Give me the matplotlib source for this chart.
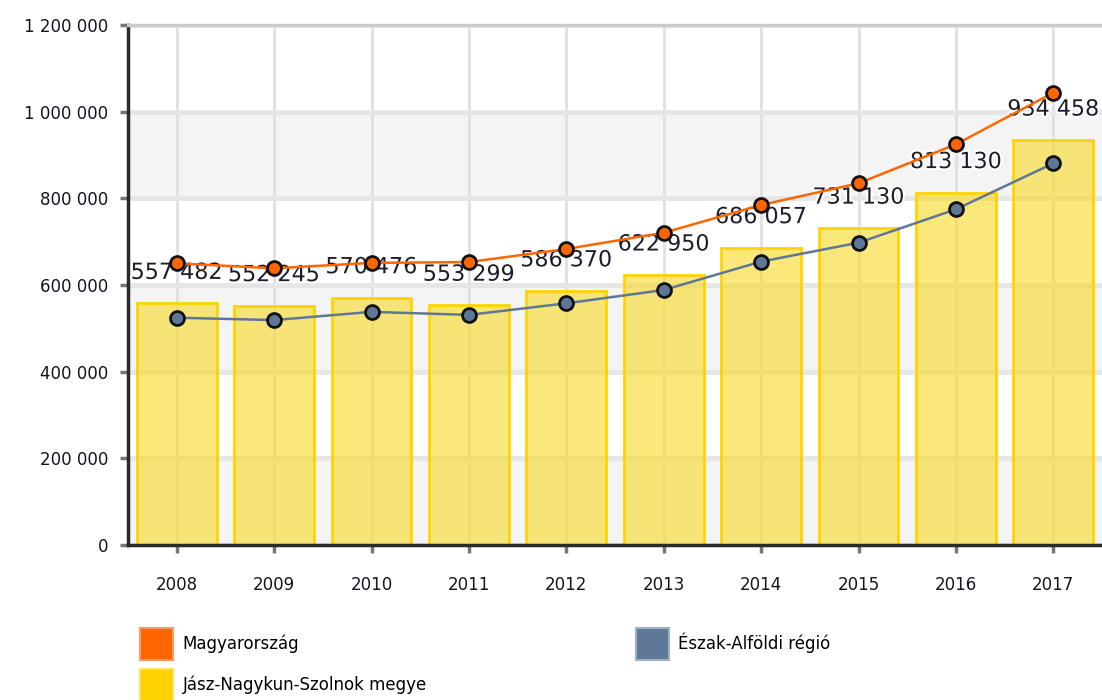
import matplotlib
matplotlib.use('Agg')
import matplotlib.pyplot as plt
import matplotlib.patheffects as pe
from matplotlib.patches import Patch
import numpy as np

years = ['2008', '2009', '2010', '2011', '2012', '2013', '2014', '2015', '2016', '2017']
megye = [557482, 552245, 570476, 553299, 586370, 622950, 686057, 731130, 813130, 934458]
orszag = [650000, 638500, 651000, 653000, 683000, 720700, 784600, 834600, 924700, 1043800]
regio = [524500, 519000, 538000, 531000, 557700, 588500, 654000, 697600, 774700, 880800]
yticks = [0, 200000, 400000, 600000, 800000, 1000000, 1200000]
ytick_labels = ['0', '200 000', '400 000', '600 000', '800 000', '1 000 000', '1 200 000']
series_names = ['Magyarország', 'Észak-Alföldi régió', 'Jász-Nagykun-Szolnok megye']

C_OR = '#FF6600'
C_REG = '#5F7797'
C_BAR = '#F8DA22'
C_BAR_EDGE = '#FFD400'

plt.rcParams['font.family'] = ['DejaVu Sans']

fig = plt.figure(figsize=(11.02, 7.0), dpi=100)
ax = fig.add_axes([128 / 1102, 1 - 545 / 700, (1102 - 128) / 1102, 520 / 700])
x = np.arange(len(years))
ax.set_xlim(-0.5, 9.5)
ax.set_ylim(0, 1200000)

for lo in (0, 400000, 800000):
    ax.axhspan(lo, lo + 200000, color='#f4f4f4', lw=0, zorder=0)

ax.set_axisbelow(True)
ax.grid(axis='y', color='#e6e6e6', lw=3.5, zorder=0.5)
ax.grid(axis='x', color='#e0e0e0', lw=2, zorder=0.5)

ax.bar(x, megye, width=0.82, color=C_BAR, alpha=0.6, edgecolor='none', zorder=2)
ax.bar(x, megye, width=0.82, facecolor='none', edgecolor=C_BAR_EDGE, lw=2, zorder=2.1)

for i, v in enumerate(megye):
    ax.annotate(f'{v:,}'.replace(',', ' '), xy=(x[i], v), xytext=(0, 22),
                textcoords='offset points', ha='center', va='center',
                fontsize=16, color='#1c1c2a', zorder=4,
                path_effects=[pe.withStroke(linewidth=3, foreground='white')])

ax.plot(x, orszag, color=C_OR, lw=1.8, marker='o', markersize=10,
        markerfacecolor=C_OR, markeredgecolor='#111111', markeredgewidth=2, zorder=5)
ax.plot(x, regio, color=C_REG, lw=1.8, marker='o', markersize=10,
        markerfacecolor=C_REG, markeredgecolor='#111111', markeredgewidth=2, zorder=5)

ax.set_xticks(x)
ax.set_xticklabels(years)
ax.set_yticks(yticks)
ax.set_yticklabels(ytick_labels)
ax.tick_params(axis='both', length=6, width=2.5, color='#777777', labelsize=12,
               labelcolor='#141422')
ax.tick_params(axis='y', pad=8)
ax.tick_params(axis='x', pad=16)

for s in ('left', 'bottom'):
    ax.spines[s].set_color('#2a2a2a')
    ax.spines[s].set_linewidth(2.5)
ax.spines['right'].set_visible(False)
ax.spines['top'].set_color('#cccccc')
ax.spines['top'].set_linewidth(2.5)

h_or = Patch(facecolor=C_OR, edgecolor='#FF9960', lw=1.5)
h_reg = Patch(facecolor=C_REG, edgecolor='#9FB0C6', lw=1.5)
h_bar = Patch(facecolor='#FFD200', edgecolor='#FFE060', lw=1.5)

fig.legend([h_or, h_bar], [series_names[0], series_names[2]],
           loc='upper left', bbox_to_anchor=(140 / 1102, 1 - 628 / 700),
           frameon=False, fontsize=12, handlelength=2.0, handleheight=2.6,
           handletextpad=0.55, labelspacing=0.5, borderpad=0, borderaxespad=0)
fig.legend([h_reg], [series_names[1]],
           loc='upper left', bbox_to_anchor=(636 / 1102, 1 - 628 / 700),
           frameon=False, fontsize=12, handlelength=2.0, handleheight=2.6,
           handletextpad=0.55, labelspacing=0.5, borderpad=0, borderaxespad=0)

fig.savefig('out.png', dpi=100)
